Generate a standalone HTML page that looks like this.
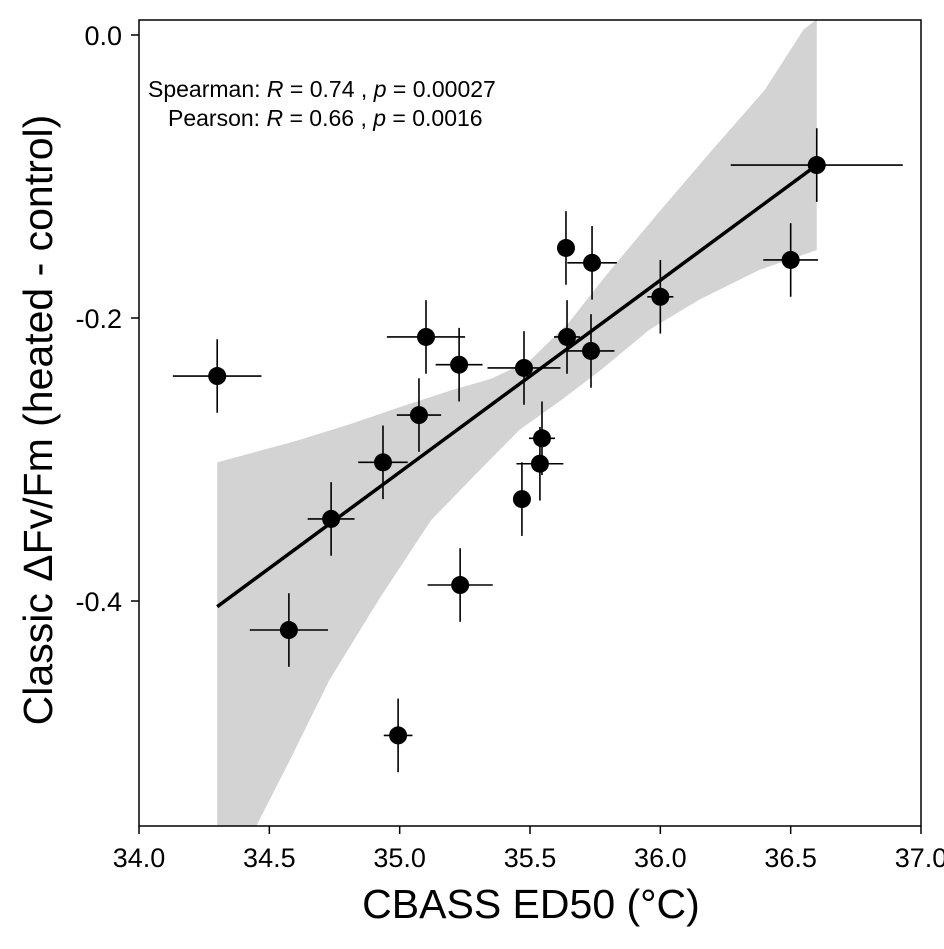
<!DOCTYPE html>
<html><head><meta charset="utf-8"><style>
body{margin:0;background:#fff}
svg text{font-family:"Liberation Sans",Arial,sans-serif}
</style></head><body>
<svg id="chart" width="944" height="944" viewBox="0 0 944 944" xmlns="http://www.w3.org/2000/svg">
<defs><clipPath id="clip"><rect x="139" y="20" width="782" height="806"/></clipPath></defs>
<g id="band" clip-path="url(#clip)"></g>
<g id="line" clip-path="url(#clip)"></g>
<g id="points"></g>
<rect x="139" y="20" width="782" height="806" fill="none" stroke="#000" stroke-width="1.5"/>
<g id="xaxis"></g>
<g id="yaxis"></g>
<text x="148" y="97" font-size="23">Spearman: <tspan font-style="italic">R</tspan> = 0.74 , <tspan font-style="italic">p</tspan> = 0.00027</text>
<text x="168" y="126" font-size="23">Pearson: <tspan font-style="italic">R</tspan> = 0.66 , <tspan font-style="italic">p</tspan> = 0.0016</text>
<text x="531" y="918" font-size="41" text-anchor="middle">CBASS ED50 (°C)</text>
<text transform="translate(52,420) rotate(-90)" font-size="41" text-anchor="middle">Classic ΔFv/Fm (heated - control)</text>
</svg>
<script>
const xVals=[34.30,34.575,34.737,34.936,34.994,35.074,35.101,35.228,35.232,35.469,35.477,35.538,35.546,35.638,35.642,35.738,35.734,36.00,36.50,36.60];
const yVals=[-0.241,-0.4205,-0.342,-0.302,-0.495,-0.2686,-0.2134,-0.233,-0.3887,-0.328,-0.2353,-0.303,-0.285,-0.1505,-0.2134,-0.161,-0.2233,-0.185,-0.159,-0.0919];
const xErr=[0.17,0.15,0.09,0.095,0.055,0.085,0.15,0.09,0.125,0.03,0.14,0.09,0.05,0.03,0.05,0.095,0.09,0.05,0.105,0.33];
const yErr=[0.026,0.026,0.026,0.026,0.026,0.026,0.026,0.026,0.026,0.026,0.026,0.026,0.026,0.026,0.026,0.026,0.026,0.026,0.026,0.026];
const fitX=[34.30,36.60];
const fitY=[-0.404,-0.0919];
const bandUpX=[34.3,34.6,34.81,35.0,35.2,35.35,35.5,35.65,35.8,36.0,36.2,36.4,36.55,36.6];
const bandUpY=[-0.302,-0.287,-0.275,-0.263,-0.251,-0.243,-0.230,-0.203,-0.168,-0.124,-0.081,-0.039,0.004,0.011];
const bandLoX=[36.6,36.38,36.15,35.96,35.77,35.62,35.46,35.31,35.12,34.92,34.73,34.58,34.45,34.3];
const bandLoY=[-0.152,-0.166,-0.187,-0.208,-0.237,-0.258,-0.279,-0.307,-0.343,-0.399,-0.456,-0.512,-0.559,-0.6];
const xTicks=[34.0,34.5,35.0,35.5,36.0,36.5,37.0];
const xTickLabels=["34.0","34.5","35.0","35.5","36.0","36.5","37.0"];
const yTicks=[0.0,-0.2,-0.4];
const yTickLabels=["0.0","-0.2","-0.4"];
const sx=v=>139+(v-34)*260.67;
const sy=v=>35-v*1415;
const NS="http://www.w3.org/2000/svg";
function mk(tag,attrs,parent){const e=document.createElementNS(NS,tag);for(const k in attrs)e.setAttribute(k,attrs[k]);parent.appendChild(e);return e;}
let pts=[];
bandUpX.forEach((x,i)=>pts.push(sx(x)+","+sy(bandUpY[i])));
bandLoX.forEach((x,i)=>pts.push(sx(x)+","+sy(bandLoY[i])));
const poly=mk("polygon",{points:pts.join(" "),fill:"#d3d3d3"},document.getElementById("band"));


const ln=mk("line",{x1:sx(fitX[0]),y1:sy(fitY[0]),x2:sx(fitX[1]),y2:sy(fitY[1]),stroke:"#000","stroke-width":3.5},document.getElementById("line"));


const pg=document.getElementById("points");
xVals.forEach((x,i)=>{
  const g=mk("g",{},pg);
  
  
  const cx=sx(x),cy=sy(yVals[i]);
  mk("line",{x1:sx(x-xErr[i]),x2:sx(x+xErr[i]),y1:cy,y2:cy,stroke:"#000","stroke-width":1.6},g);
  mk("line",{x1:cx,x2:cx,y1:sy(yVals[i]+yErr[i]),y2:sy(yVals[i]-yErr[i]),stroke:"#000","stroke-width":1.6},g);
  mk("circle",{cx:cx,cy:cy,r:9,fill:"#000"},g);
});
const xa=document.getElementById("xaxis");
xTicks.forEach((t,i)=>{
  const l=mk("line",{x1:sx(t),x2:sx(t),y1:826,y2:834,stroke:"#000","stroke-width":1.5},xa);
  
  
  const tx=mk("text",{x:sx(t),y:867,"font-size":27,"text-anchor":"middle"},xa);
  tx.textContent=xTickLabels[i];
  
  
});
const ya=document.getElementById("yaxis");
yTicks.forEach((t,i)=>{
  const l=mk("line",{x1:131,x2:139,y1:sy(t),y2:sy(t),stroke:"#000","stroke-width":1.5},ya);
  
  
  const tx=mk("text",{x:122,y:sy(t)+10,"font-size":27,"text-anchor":"end"},ya);
  tx.textContent=yTickLabels[i];
  
  
});
</script>
</body></html>
